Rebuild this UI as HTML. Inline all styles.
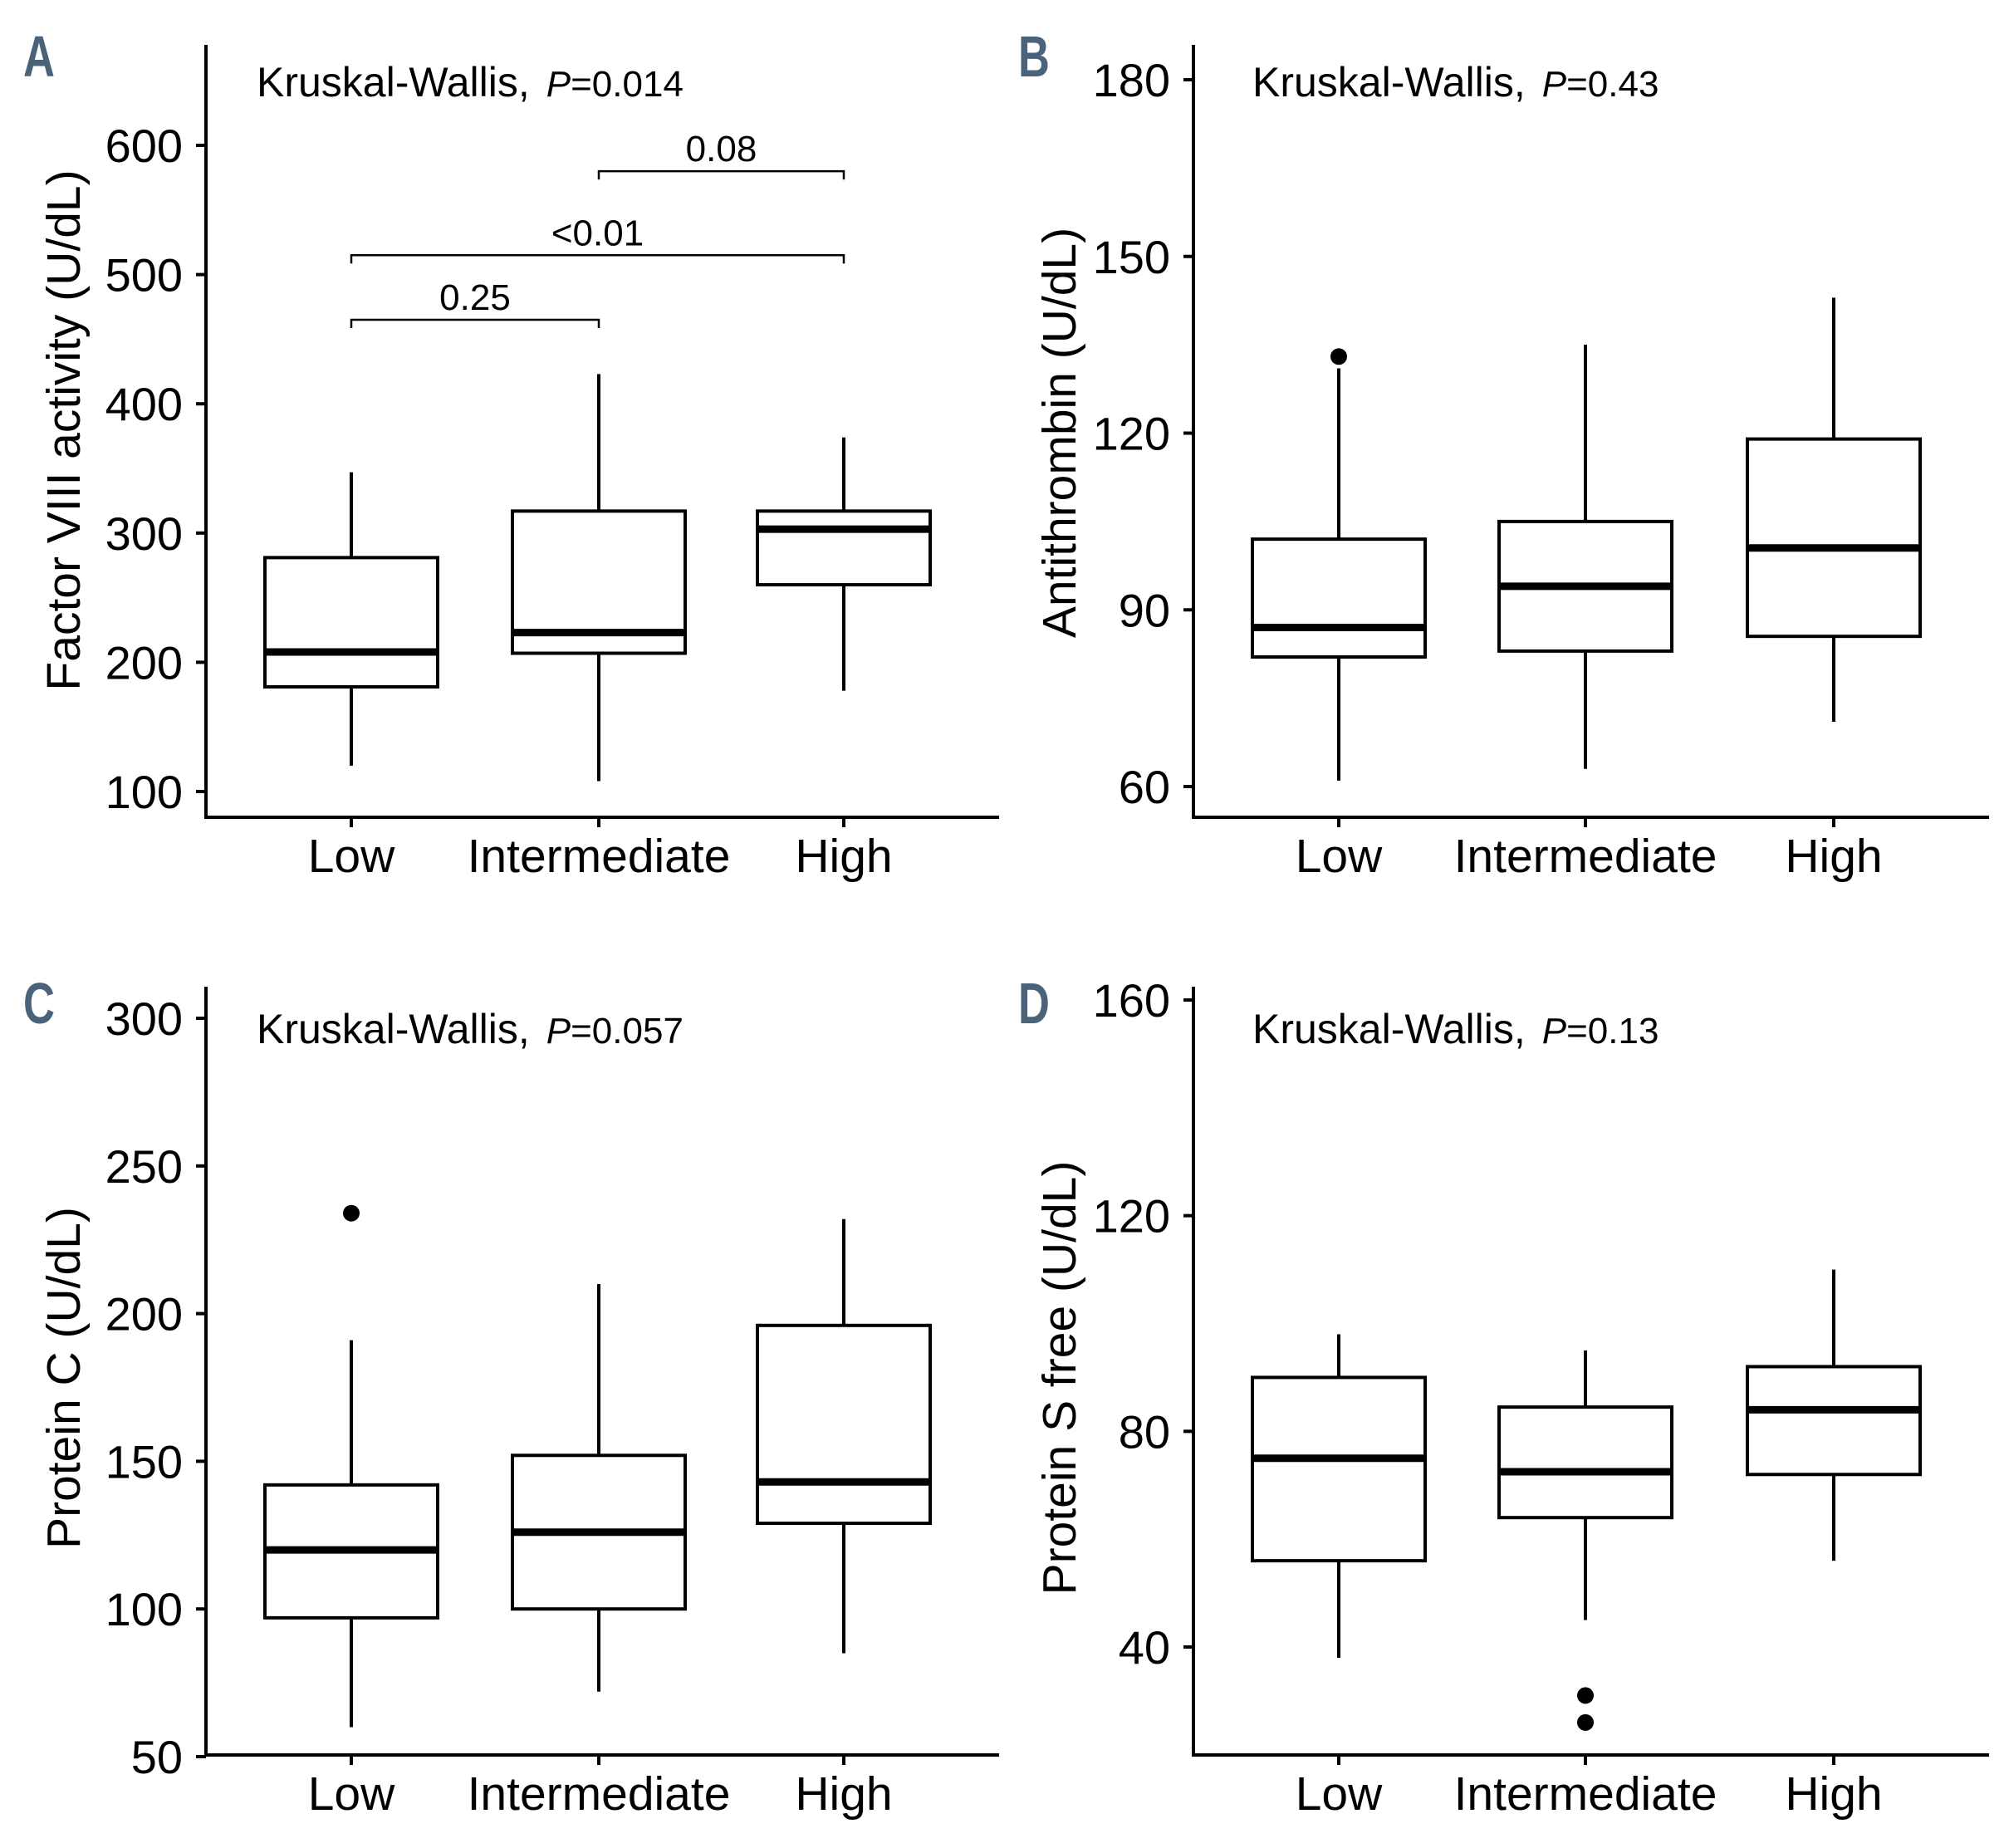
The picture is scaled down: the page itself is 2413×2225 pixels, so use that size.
<!DOCTYPE html>
<html><head><meta charset="utf-8"><style>
html,body{margin:0;padding:0;background:#fff;}
svg{display:block;font-family:"Liberation Sans",sans-serif;}
</style></head><body>
<svg id="fig" width="2413" height="2225" viewBox="0 0 2413 2225" xmlns="http://www.w3.org/2000/svg"></svg>
<script>
const categories = ["Low","Intermediate","High"];
// [whiskerLow, q1, median, q3, whiskerHigh]
const statsA = [[120,181,208,281,347],[108,207,223,317,423],[178,260,303,317,374]];
const outliersA = [[],[],[]];
const ticksA = [100,200,300,400,500,600];
const statsB = [[61,82,87,102,131],[63,83,94,105,135],[71,85.5,100.5,119,143]];
const outliersB = [[133],[],[]];
const ticksB = [60,90,120,150,180];
const statsC = [[60,97,120,142,191],[72,100,126,152,210],[85,129,143,196,232]];
const outliersC = [[234],[],[]];
const ticksC = [50,100,150,200,250,300];
const statsD = [[38,56,75,90,98],[45,64,72.5,84.5,95],[56,72,84,92,110]];
const outliersD = [[],[31,26],[]];
const ticksD = [40,80,120,160];
const bracketsA = [[0,1,465,"0.25"],[0,2,515,"<0.01"],[1,2,580,"0.08"]];

const NS="http://www.w3.org/2000/svg";
const svg=document.getElementById('fig');
function mk(tag,attrs,parent,text){const e=document.createElementNS(NS,tag);for(const k in attrs)e.setAttribute(k,attrs[k]);if(text!==undefined)e.textContent=text;(parent||svg).appendChild(e);return e;}

function panel(cfg){
  const g=mk('g',{});
  
  
  const y=v=>cfg.y0+(v-cfg.v0)*(cfg.y1-cfg.y0)/(cfg.v1-cfg.v0);
  const xs=cfg.cx;
  const L=mk('text',{x:cfg.lx,y:cfg.ly,'font-size':70,'font-weight':'bold',fill:'#4a6378',transform:`translate(${cfg.lx},0) scale(0.75,1) translate(${-cfg.lx},0)`},g,cfg.letter);
  
  
  const ax=mk('path',{d:`M${cfg.ax},${cfg.top} V${cfg.bot} H${cfg.right}`,stroke:'#000','stroke-width':4,fill:'none'},g);
  
  
  cfg.ticks.forEach(t=>{
    const yy=y(t);
    mk('line',{x1:cfg.ax-12,x2:cfg.ax,y1:yy,y2:yy,stroke:'#000','stroke-width':4},g);
    const tl=mk('text',{x:cfg.ax-28,y:yy+20,'font-size':56,'text-anchor':'end'},g,String(t));
    
    
  });
  categories.forEach((c,i)=>{
    mk('line',{x1:xs[i],x2:xs[i],y1:cfg.bot,y2:cfg.bot+12,stroke:'#000','stroke-width':4},g);
    const xl=mk('text',{x:xs[i],y:cfg.bot+66,'font-size':57,'text-anchor':'middle'},g,c);
    
    
  });
  const yt=mk('text',{x:0,y:0,'font-size':57,'text-anchor':'middle',transform:`translate(${cfg.tx},${cfg.ty}) rotate(-90)`},g,cfg.title);
  
  
  const an=mk('text',{x:cfg.kx,y:cfg.ky,'font-size':50},g);
  
  
  mk('tspan',{},an,'Kruskal-Wallis,');
  mk('tspan',{'font-style':'italic','font-size':44,dx:20},an,'P');
  mk('tspan',{'font-size':44},an,'='+cfg.p);
  const hw=104;
  cfg.stats.forEach((s,i)=>{
    const bg=mk('g',{},g);
    
    
    mk('line',{x1:xs[i],x2:xs[i],y1:y(s[0]),y2:y(s[1]),stroke:'#000','stroke-width':4},bg);
    mk('line',{x1:xs[i],x2:xs[i],y1:y(s[3]),y2:y(s[4]),stroke:'#000','stroke-width':4},bg);
    mk('rect',{x:xs[i]-hw,y:y(s[3]),width:2*hw,height:y(s[1])-y(s[3]),fill:'#fff',stroke:'#000','stroke-width':4},bg);
    mk('line',{x1:xs[i]-hw,x2:xs[i]+hw,y1:y(s[2]),y2:y(s[2]),stroke:'#000','stroke-width':9},bg);
    cfg.out[i].forEach(o=>{
      const c=mk('circle',{cx:xs[i],cy:y(o),r:10,fill:'#000'},bg);
      
      
    });
  });
  (cfg.brackets||[]).forEach(b=>{
    const yy=y(b[2]);
    const bb=mk('path',{d:`M${xs[b[0]]},${yy+10} V${yy} H${xs[b[1]]} V${yy+10}`,stroke:'#000','stroke-width':2.5,fill:'none'},g);
    
    
    const bt=mk('text',{x:(xs[b[0]]+xs[b[1]])/2,y:yy-12,'font-size':44,'text-anchor':'middle'},g,b[3]);
    
    
  });
}
const cxL=[423,721,1016], cxR=[1621,1918,2217].map(v=>v-9);
panel({letter:'A',lx:28,ly:92,ax:248,top:54,bot:984,right:1203,v0:100,y0:953,v1:600,y1:175,ticks:ticksA,cx:cxL,stats:statsA,out:outliersA,brackets:bracketsA,title:'Factor VIII activity (U/dL)',tx:96,ty:518,kx:309,ky:116,p:'0.014'});
panel({letter:'B',lx:1226,ly:92,ax:1437,top:54,bot:984,right:2395,v0:60,y0:947,v1:180,y1:96,ticks:ticksB,cx:cxR,stats:statsB,out:outliersB,title:'Antithrombin (U/dL)',tx:1295,ty:521,kx:1508,ky:116,p:'0.43'});
panel({letter:'C',lx:28,ly:1232,ax:248,top:1188,bot:2113,right:1203,v0:50,y0:2115,v1:300,y1:1226,ticks:ticksC,cx:cxL,stats:statsC,out:outliersC,title:'Protein C (U/dL)',tx:96,ty:1659,kx:309,ky:1256,p:'0.057'});
panel({letter:'D',lx:1226,ly:1232,ax:1437,top:1188,bot:2113,right:2395,v0:40,y0:1983,v1:160,y1:1204,ticks:ticksD,cx:cxR,stats:statsD,out:outliersD,title:'Protein S free (U/dL)',tx:1295,ty:1659,kx:1508,ky:1256,p:'0.13'});
</script>
</body></html>
